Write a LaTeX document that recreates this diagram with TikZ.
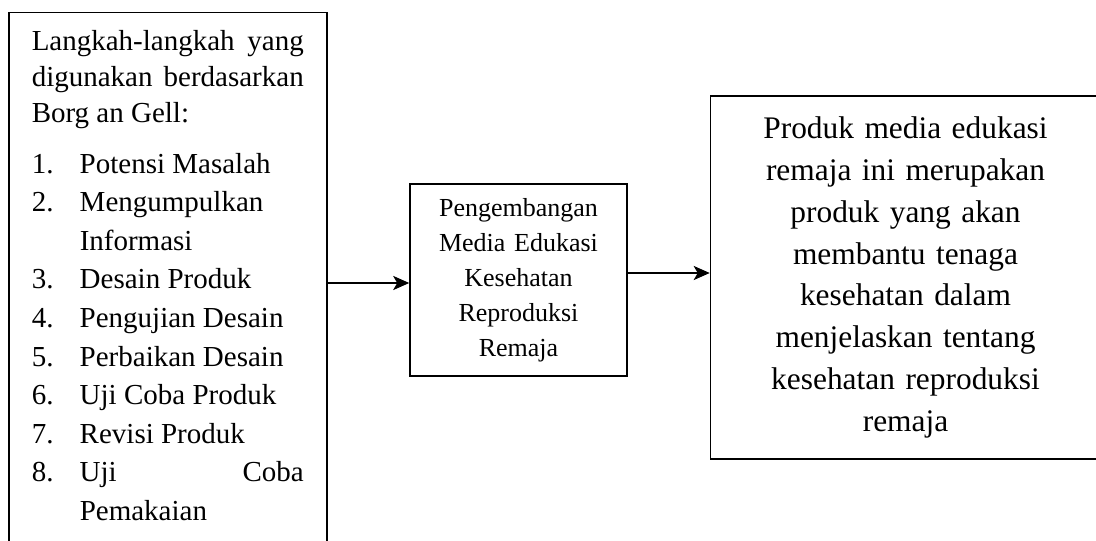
\documentclass[tikz,border=0pt]{standalone}
\usepackage{fontspec}
\setmainfont{Liberation Serif}
\usetikzlibrary{arrows.meta, positioning}

% numbered step with hanging indent
\newcommand{\butir}[2]{\par\hangindent=24pt\hangafter=1\noindent\makebox[24pt][l]{#1}#2}

\begin{document}
\begin{tikzpicture}[
    x=0.5pt, y=-0.5pt,
    kotak/.style = {
      draw, line width=0.75pt,
      inner sep=0pt,
      align=center
    },
    panah/.style = {-{Stealth[length=8pt, width=7pt, inset=2pt]}, line width=1.3pt}
  ]
    \useasboundingbox (0,0) rectangle (1096,540);

    \node[kotak, anchor=north west, text width=136pt, inner xsep=11.5pt,
          inner ysep=9pt, align=justify,
          font=\fontsize{14.5pt}{18pt}\selectfont] (langkah) at (8,12)
      {Langkah-langkah yang\linebreak digunakan berdasarkan\linebreak Borg an Gell:\par
       \vspace{5.8pt}\fontsize{14.5pt}{19.3pt}\selectfont
       \butir{1.}{Potensi Masalah}
       \butir{2.}{Mengumpulkan\newline Informasi}
       \butir{3.}{Desain Produk}
       \butir{4.}{Pengujian Desain}
       \butir{5.}{Perbaikan Desain}
       \butir{6.}{Uji Coba Produk}
       \butir{7.}{Revisi Produk}
       \butir{8.}{Uji Coba\linebreak Pemakaian}\par
       \noindent\rule{0pt}{20pt}};

    \node[kotak, text width=95pt, inner xsep=6.75pt, minimum height=96pt,
          font=\fontsize{13pt}{17.5pt}\selectfont] (media) at (518.5,280)
      {Pengembangan\\Media Edukasi\\Kesehatan\\Reproduksi\\Remaja};

    \node[kotak, right=41pt of media, yshift=1.25pt, text width=180pt,
          inner xsep=7.5pt, minimum height=181.5pt,
          font=\fontsize{15.7pt}{20.9pt}\selectfont] (produk)
      {Produk media edukasi\\remaja ini merupakan\\produk yang akan\\
       membantu tenaga\\kesehatan dalam\\menjelaskan tentang\\
       kesehatan reproduksi\\remaja};

    \coordinate (masuk) at ([yshift=-1.5pt]media.west);
    \coordinate (keluar) at ([yshift=3.5pt]media.east);

    \draw[panah] (langkah.east |- masuk) -- (masuk);
    \draw[panah] (keluar) -- (keluar -| produk.west);

\end{tikzpicture}
\end{document}
